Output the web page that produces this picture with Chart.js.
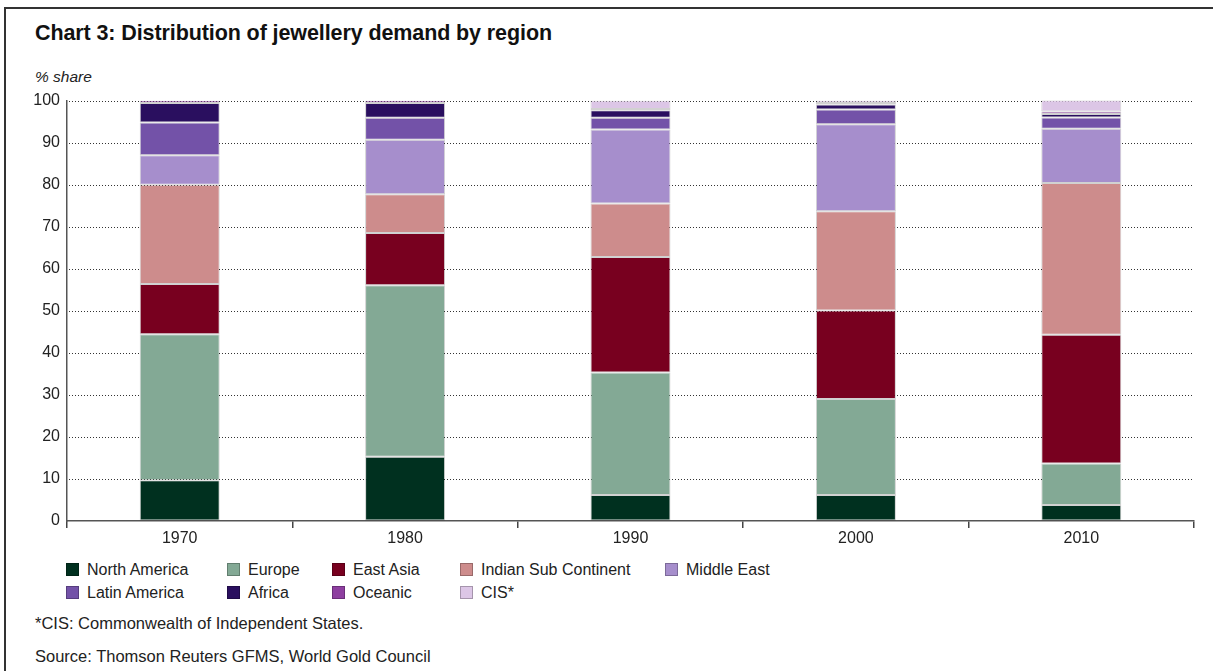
<!DOCTYPE html>
<html lang="en">

<head>
  <meta charset="UTF-8">
  <title>Distribution of jewellery demand by region</title>
  <script src="https://cdn.jsdelivr.net/npm/chart.js"></script>
  <style>
    body { margin: 0; background: #fff; font-family: 'Liberation Sans', Arial, sans-serif; color: #111; }
    .frame { position: relative; width: 1213px; height: 671px; overflow: hidden; }
    .frame::before { content: ''; position: absolute; left: 4px; top: 7px; right: -10px; bottom: -10px; border-top: 2px solid #333; border-left: 2px solid #333; }
    h1 { position: absolute; left: 35px; top: 21px; margin: 0; font-size: 21.5px; font-weight: bold; letter-spacing: -0.1px; }
    .unit { position: absolute; left: 35px; top: 68px; font-size: 15.5px; font-style: italic; color: #222; }
    .chart-box { position: absolute; left: 20px; top: 84px; width: 1190px; height: 467px; }
    .legend { position: absolute; left: 0; top: 0; width: 1213px; }
    .legend-item { position: absolute; font-size: 16px; line-height: 18px; white-space: nowrap; color: #222; }
    .legend-item span { display: inline-block; width: 13px; height: 13px; margin-right: 8px; vertical-align: -1px; box-sizing: border-box; border: 1px solid rgba(0,0,0,0.25); }
    .note { position: absolute; left: 35px; font-size: 16.5px; color: #222; }
  </style>
</head>

<body>
  <div class="frame">
    <h1>Chart 3: Distribution of jewellery demand by region</h1>
    <div class="unit">% share</div>
    <div class="chart-box"><canvas id="demand-chart"></canvas></div>
    <div class="legend" id="legend"></div>
    <div class="note" style="top: 614px;">*CIS: Commonwealth of Independent States.</div>
    <div class="note" style="top: 647px;">Source: Thomson Reuters GFMS, World Gold Council</div>
  </div>

  <script>
    const years = ['1970', '1980', '1990', '2000', '2010']
    const yTicks = [0, 10, 20, 30, 40, 50, 60, 70, 80, 90, 100]

    // % share of jewellery demand, stacked bottom to top
    const northAmerica = [9.7, 15.3, 6.2, 6.2, 3.8]
    const europe = [34.7, 40.8, 29.1, 22.8, 9.9]
    const eastAsia = [12.0, 12.4, 27.5, 21.1, 30.6]
    const indianSub = [23.6, 9.2, 12.7, 23.6, 36.1]
    const middleEast = [7.0, 13.0, 17.6, 20.7, 12.9]
    const latinAmerica = [7.8, 5.2, 2.8, 3.5, 2.7]
    const africa = [4.6, 3.5, 1.8, 1.2, 0.8]
    const oceanic = [0.6, 0.6, 0.3, 0.3, 0.6]
    const cis = [0, 0, 2.0, 0.6, 2.7]

    const series = [
      { label: 'North America', data: northAmerica, color: '#00301f' },
      { label: 'Europe', data: europe, color: '#83a995' },
      { label: 'East Asia', data: eastAsia, color: '#78001f' },
      { label: 'Indian Sub Continent', data: indianSub, color: '#cd8c8c' },
      { label: 'Middle East', data: middleEast, color: '#a68ecc' },
      { label: 'Latin America', data: latinAmerica, color: '#7352a8' },
      { label: 'Africa', data: africa, color: '#2a0f5f' },
      { label: 'Oceanic', data: oceanic, color: '#8e3fa0' },
      { label: 'CIS*', data: cis, color: '#dcc6e6' }
    ]

    // legend laid out in two rows of columns
    const legendCols = [66, 227, 332, 460, 665]
    const legendRows = [561, 584]
    const legendEl = document.getElementById('legend')
    series.forEach((s, i) => {
      const item = document.createElement('div')
      item.className = 'legend-item'
      item.style.left = legendCols[i % 5] + 'px'
      item.style.top = legendRows[Math.floor(i / 5)] + 'px'
      item.innerHTML = '<span style="background:' + s.color + '"></span>' + s.label
      legendEl.appendChild(item)
    })

    const ctx = document.getElementById('demand-chart').getContext('2d')
    new Chart(ctx, {
      type: 'bar',
      data: {
        labels: years,
        datasets: series.map(s => ({
          label: s.label,
          data: s.data,
          backgroundColor: s.color,
          borderColor: 'rgba(0,0,0,0.18)',
          borderWidth: 1,
          borderSkipped: false,
          categoryPercentage: 1,
          barPercentage: 0.355
        }))
      },
      options: {
        responsive: true,
        maintainAspectRatio: false,
        animation: false,
        layout: { padding: { top: 1, right: 16, left: 0, bottom: 0 } },
        plugins: { legend: { display: false }, tooltip: { enabled: false } },
        scales: {
          x: {
            stacked: true,
            offset: true,
            grid: { offset: true, drawOnChartArea: false, drawTicks: true, tickLength: 7, color: '#444', lineWidth: 1.5 },
            border: { display: true, color: '#555', width: 1.5 },
            ticks: { color: '#222', font: { family: 'Liberation Sans', size: 16 }, padding: 1 },
            afterFit: scale => { scale.height = 30 }
          },
          y: {
            stacked: true,
            min: 0,
            max: 100,
            afterBuildTicks: scale => { scale.ticks = yTicks.map(v => ({ value: v })) },
            grid: { drawOnChartArea: false, drawTicks: false },
            border: { display: true, color: '#555', width: 1.5 },
            ticks: { color: '#222', font: { family: 'Liberation Sans', size: 16 }, padding: 7 },
            afterFit: scale => { scale.width = 47 }
          }
        }
      },
      plugins: [{
        // dotted gridlines drawn behind the bars
        id: 'dottedGrid',
        beforeDatasetsDraw (chart) {
          const { ctx, chartArea, scales } = chart
          ctx.save()
          ctx.strokeStyle = '#333'
          ctx.lineWidth = 1
          ctx.setLineDash([1, 2])
          yTicks.slice(1).forEach(v => {
            const y = Math.round(scales.y.getPixelForValue(v)) + 0.5
            ctx.beginPath()
            ctx.moveTo(chartArea.left + 2, y)
            ctx.lineTo(chartArea.right, y)
            ctx.stroke()
          })
          ctx.restore()
        }
      }]
    })
  </script>
</body>

</html>
